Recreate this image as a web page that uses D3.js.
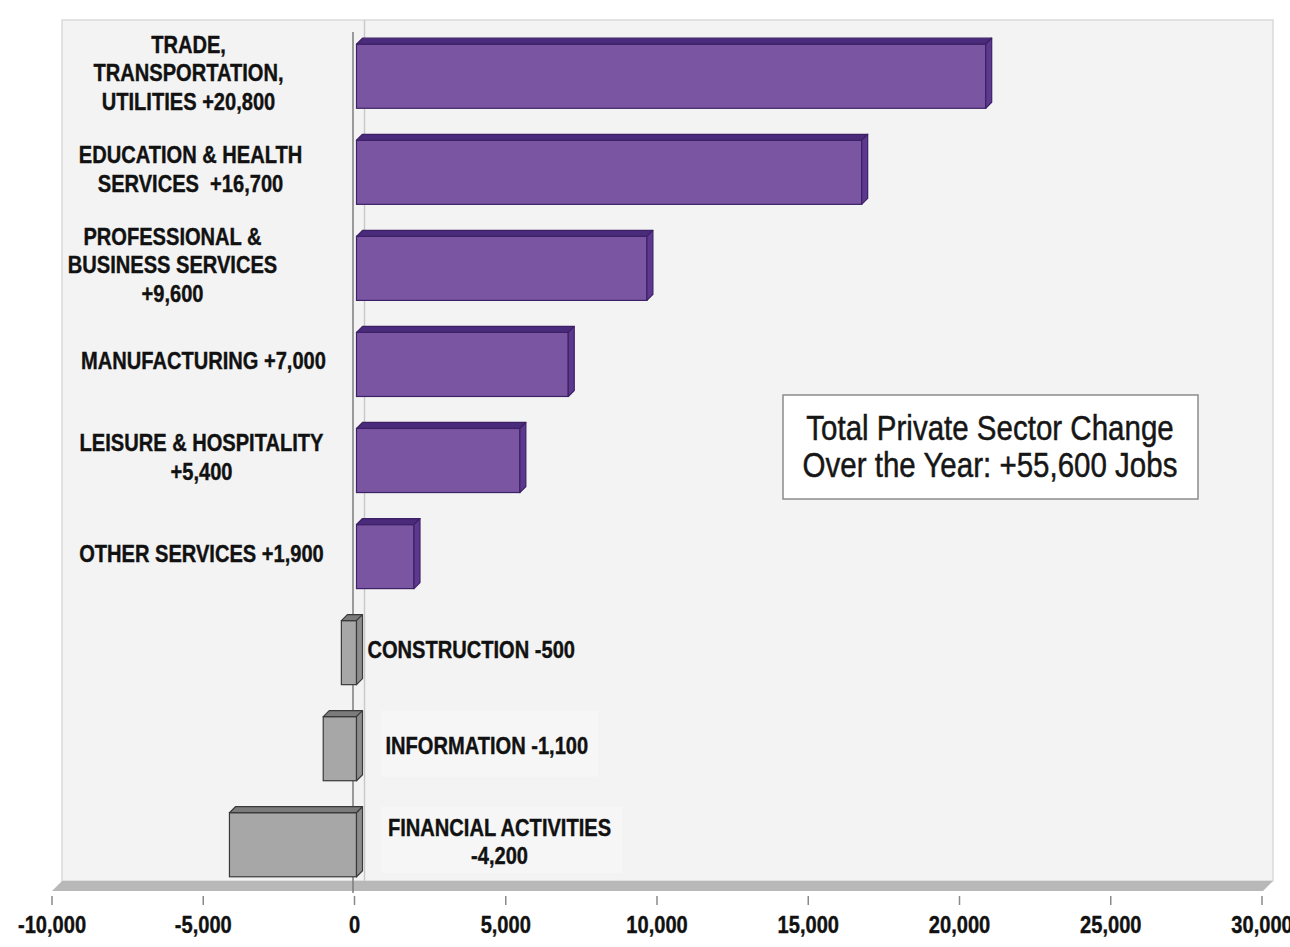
<!DOCTYPE html>
<html>
<head>
<meta charset="utf-8">
<script src="https://cdn.jsdelivr.net/npm/d3@7/dist/d3.min.js"></script>
<style>
  body { margin: 0; background: #fff; }
  svg text { font-family: "Liberation Sans", Arial, sans-serif; }
</style>
</head>
<body>
<svg id="chart" width="1290" height="947"></svg>
<script>
// over-the-year job change by private sector
var sectors = ["Trade, Transportation, Utilities", "Education & Health Services",
  "Professional & Business Services", "Manufacturing", "Leisure & Hospitality",
  "Other Services", "Construction", "Information", "Financial Activities"];
var jobChange = [20800, 16700, 9600, 7000, 5400, 1900, -500, -1100, -4200];
// {v} is replaced by the formatted change
var labelTemplates = ["TRADE,\nTRANSPORTATION,\nUTILITIES {v}", "EDUCATION & HEALTH\nSERVICES  {v}",
  "PROFESSIONAL &\nBUSINESS SERVICES\n{v}", "MANUFACTURING {v}", "LEISURE & HOSPITALITY\n{v}",
  "OTHER SERVICES {v}", "CONSTRUCTION {v}", "INFORMATION {v}", "FINANCIAL ACTIVITIES\n{v}"];
var xTicks = [-10000, -5000, 0, 5000, 10000, 15000, 20000, 25000, 30000];
var xDomain = [-10000, 30000];

// label placement (pixel offset from the zero line)
var labelPlace = [
  {anchor: "middle", dx: -166}, {anchor: "middle", dx: -164}, {anchor: "middle", dx: -182},
  {anchor: "middle", dx: -151}, {anchor: "middle", dx: -153}, {anchor: "middle", dx: -153},
  {anchor: "start", dx: 13}, {anchor: "start", dx: 31}, {anchor: "middle", dx: 145}
];

var NARROW = 0.82; // arial narrow look: squeeze the sans horizontally

var loc = d3.formatLocale({decimal: ".", thousands: ",", grouping: [3], currency: ["$", ""], minus: "-"});
var fmtSigned = loc.format("+,");
var fmtTick = loc.format(",");

var svg = d3.select("#chart");
var WALL = {left: 62, right: 1273, top: 20, floor: 881};
var DEPTH = 10;   // floor depth
var BD = 6;       // bar depth
var x = d3.scaleLinear().domain(xDomain).range([52, 1262]);
var y = d3.scaleBand().domain(sectors).range([25, 896]).paddingInner(0.333).paddingOuter(0.2);

// back wall
svg.append("rect")
  .attr("x", WALL.left).attr("y", WALL.top)
  .attr("width", WALL.right - WALL.left).attr("height", WALL.floor - WALL.top)
  .attr("fill", "#f3f3f3").attr("stroke", "#dadada").attr("stroke-width", 1.5);

// floor
svg.append("path")
  .attr("d", "M" + WALL.left + "," + WALL.floor + "L" + WALL.right + "," + WALL.floor +
    "L" + (WALL.right - DEPTH) + "," + (WALL.floor + DEPTH) + "L" + (WALL.left - DEPTH) + "," + (WALL.floor + DEPTH) + "Z")
  .attr("fill", "#b8b8b8");

// zero lines (back wall and front)
svg.append("line")
  .attr("x1", x(0) + DEPTH).attr("x2", x(0) + DEPTH)
  .attr("y1", WALL.top).attr("y2", WALL.floor)
  .attr("stroke", "#c9c9c9").attr("stroke-width", 1.5);
svg.append("line")
  .attr("x1", x(0) - 1.5).attr("x2", x(0) - 1.5)
  .attr("y1", 32).attr("y2", WALL.floor + DEPTH + 2)
  .attr("stroke", "#7d7d7d").attr("stroke-width", 1.5);

// faint boxes behind the negative labels
[7, 8].forEach(function(i) {
  var b = y(sectors[i]);
  svg.append("rect")
    .attr("x", x(0) + 26).attr("y", b - 6)
    .attr("width", i === 8 ? 242 : 218).attr("height", y.bandwidth() + 2)
    .attr("fill", "#f6f6f6");
});

// x axis ticks
var axis = svg.append("g");
axis.selectAll("line").data(xTicks).enter().append("line")
  .attr("x1", function(d) { return x(d); }).attr("x2", function(d) { return x(d); })
  .attr("y1", 896).attr("y2", 905)
  .attr("stroke", "#8a8a8a").attr("stroke-width", 1.5);
axis.selectAll("text").data(xTicks).enter().append("text")
  .attr("transform", function(d) { return "translate(" + x(d) + ",933) scale(" + NARROW + ",1)"; })
  .attr("text-anchor", "middle")
  .attr("font-size", 24.5).attr("font-weight", "bold").attr("fill", "#111")
  .attr("stroke", "#111").attr("stroke-width", 0.4)
  .text(function(d) { return fmtTick(d); });

// 3d bars
var rows = sectors.map(function(s, i) { return {name: s, v: jobChange[i], i: i}; });
var bars = svg.append("g").selectAll("g").data(rows).enter().append("g");

function col(d, pos, neg) { return d.v >= 0 ? pos : neg; }
function x0(d) { return Math.min(x(0), x(d.v)) + 2; }
function x1(d) { return Math.max(x(0), x(d.v)) + 2; }

bars.append("rect")
  .attr("x", x0).attr("y", function(d) { return y(d.name); })
  .attr("width", function(d) { return x1(d) - x0(d); })
  .attr("height", y.bandwidth())
  .attr("fill", function(d) { return col(d, "#7a55a2", "#a7a7a7"); })
  .attr("stroke", function(d) { return col(d, "#3d2166", "#3a3a3a"); })
  .attr("stroke-width", 1.2);
// top face
bars.append("path")
  .attr("d", function(d) {
    var t = y(d.name);
    return "M" + x0(d) + "," + t + "L" + x1(d) + "," + t + "L" + (x1(d) + BD) + "," + (t - BD) +
      "L" + (x0(d) + BD) + "," + (t - BD) + "Z";
  })
  .attr("fill", function(d) { return col(d, "#4a2a7a", "#7b7b7b"); })
  .attr("stroke", function(d) { return col(d, "#3d2166", "#3a3a3a"); })
  .attr("stroke-width", 1.2).attr("stroke-linejoin", "round");
// right face
bars.append("path")
  .attr("d", function(d) {
    var t = y(d.name), b = t + y.bandwidth();
    return "M" + x1(d) + "," + t + "L" + (x1(d) + BD) + "," + (t - BD) + "L" + (x1(d) + BD) + "," + (b - BD) +
      "L" + x1(d) + "," + b + "Z";
  })
  .attr("fill", function(d) { return col(d, "#5c388f", "#8c8c8c"); })
  .attr("stroke", function(d) { return col(d, "#3d2166", "#3a3a3a"); })
  .attr("stroke-width", 1.2).attr("stroke-linejoin", "round");

// category labels
var LH = 28.5;
var labels = svg.append("g").selectAll("text").data(rows).enter().append("text")
  .attr("text-anchor", function(d) { return labelPlace[d.i].anchor; })
  .attr("font-size", 24.5).attr("font-weight", "bold").attr("fill", "#111")
  .attr("stroke", "#111").attr("stroke-width", 0.4)
  .attr("transform", function(d) {
    var n = labelTemplates[d.i].split("\n").length;
    var cy = y(d.name) + y.bandwidth() / 2 - (n - 1) * LH / 2 + 5;
    return "translate(" + (x(0) + labelPlace[d.i].dx) + "," + cy + ") scale(" + NARROW + ",1)";
  });
labels.selectAll("tspan")
  .data(function(d) { return labelTemplates[d.i].replace("{v}", fmtSigned(d.v)).split("\n"); })
  .enter().append("tspan")
  .attr("x", 0).attr("y", function(d, k) { return k * LH; })
  .style("white-space", "pre")
  .text(function(d) { return d; });

// total annotation
var total = d3.sum(jobChange);
var note = svg.append("g");
note.append("rect").attr("x", 783).attr("y", 395).attr("width", 415).attr("height", 104)
  .attr("fill", "#fff").attr("stroke", "#8c8c8c").attr("stroke-width", 1.5);
note.selectAll("text").data(["Total Private Sector Change", "Over the Year: " + fmtSigned(total) + " Jobs"])
  .enter().append("text")
  .attr("transform", function(d, k) { return "translate(990," + (440 + k * 37) + ") scale(" + NARROW + ",1)"; })
  .attr("text-anchor", "middle").attr("font-size", 36).attr("fill", "#161616")
  .attr("stroke", "#161616").attr("stroke-width", 0.5)
  .text(function(d) { return d; });
</script>
</body>
</html>
